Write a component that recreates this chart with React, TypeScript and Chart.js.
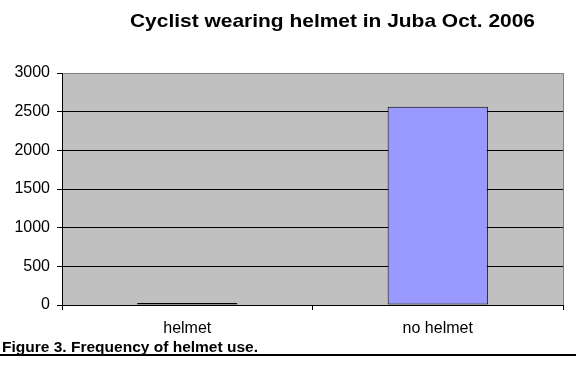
import React, { useEffect, useRef } from "react";
import { Chart, registerables } from "chart.js";

Chart.register(...registerables);

const categories = ["helmet", "no helmet"];
const cyclistCounts = [25, 2563];
const yTicks = [0, 500, 1000, 1500, 2000, 2500, 3000];
const titleText = "Cyclist wearing helmet in Juba Oct. 2006";
const captionText = "Figure 3. Frequency of helmet use.";

const FONT = '"Liberation Sans", Arial, sans-serif';

const decorPlugin = {
  id: "decor",
  beforeDraw(chart: any) {
    const { ctx, chartArea, width, height } = chart;
    ctx.save();
    ctx.fillStyle = "#ffffff";
    ctx.fillRect(0, 0, width, height);
    ctx.fillStyle = "#c0c0c0";
    ctx.fillRect(chartArea.left, chartArea.top, chartArea.right - chartArea.left, chartArea.bottom - chartArea.top);
    ctx.restore();
  },
  afterDraw(chart: any) {
    const { ctx, chartArea, width } = chart;
    ctx.save();
    ctx.strokeStyle = "#808080";
    ctx.lineWidth = 1;
    ctx.beginPath();
    ctx.moveTo(Math.round(chartArea.right) + 0.5, chartArea.top);
    ctx.lineTo(Math.round(chartArea.right) + 0.5, chartArea.bottom);
    ctx.stroke();

    ctx.fillStyle = "#000";
    ctx.font = `bold 19px ${FONT}`;
    ctx.textBaseline = "alphabetic";
    ctx.textAlign = "left";
    const tw = ctx.measureText(titleText).width;
    const targetTitleW = 405;
    ctx.save();
    ctx.translate(332.5 - targetTitleW / 2, 27);
    ctx.scale(targetTitleW / tw, 1);
    ctx.fillText(titleText, 0, 0);
    ctx.restore();

    ctx.font = `bold 14px ${FONT}`;
    const cw = ctx.measureText(captionText).width;
    const targetCapW = 256;
    ctx.save();
    ctx.translate(2, 352);
    ctx.scale(targetCapW / cw, 1);
    ctx.fillText(captionText, 0, 0);
    ctx.restore();

    ctx.strokeStyle = "#000";
    ctx.lineWidth = 2;
    ctx.beginPath();
    ctx.moveTo(0, 355);
    ctx.lineTo(width, 355);
    ctx.stroke();
    ctx.restore();
  },
};

export default function App() {
  const canvasRef = useRef<HTMLCanvasElement | null>(null);

  useEffect(() => {
    document.body.style.margin = "0";
    const canvas = canvasRef.current;
    if (!canvas) return;
    const chart = new Chart(canvas, {
      type: "bar",
      data: {
        labels: categories,
        datasets: [
          {
            label: "Cyclists",
            data: cyclistCounts,
            backgroundColor: "#9999ff",
            borderColor: "#000000",
            borderWidth: 1,
            borderSkipped: false,
            categoryPercentage: 1,
            barPercentage: 0.4,
          },
        ],
      },
      options: {
        animation: false,
        responsive: true,
        maintainAspectRatio: false,
        devicePixelRatio: 1,
        layout: { padding: { top: 73, right: 13, left: 0, bottom: 0 } },
        plugins: {
          legend: { display: false },
          title: { display: false },
          tooltip: { enabled: false },
        },
        scales: {
          x: {
            offset: true,
            grid: {
              offset: true,
              drawOnChartArea: false,
              drawTicks: true,
              tickLength: 5,
              color: "#000",
            },
            border: { display: true, color: "#000", width: 1 },
            ticks: {
              color: "#000",
              font: { family: FONT, size: 16 },
              padding: 9,
              maxRotation: 0,
            },
            afterFit(scale: any) {
              scale.height = 60;
            },
          },
          y: {
            min: 0,
            max: 3000,
            afterBuildTicks(scale: any) {
              scale.ticks = yTicks.map((v) => ({ value: v }));
            },
            grid: {
              color: (c: any) => (c.tick && c.tick.value === 3000 ? "#808080" : "#000"),
              tickColor: "#000",
              tickLength: 5,
              lineWidth: 1,
            },
            border: { display: true, color: "#000", width: 1 },
            ticks: {
              color: "#000",
              font: { family: FONT, size: 16 },
              padding: 7,
              callback: (v: any) => String(v),
            },
            afterFit(scale: any) {
              scale.width = 62;
            },
          },
        },
      },
      plugins: [decorPlugin],
    });
    return () => chart.destroy();
  }, []);

  return (
    <div style={{ position: "absolute", left: 0, top: 0, width: 576, height: 365 }}>
      <canvas ref={canvasRef} />
    </div>
  );
}
